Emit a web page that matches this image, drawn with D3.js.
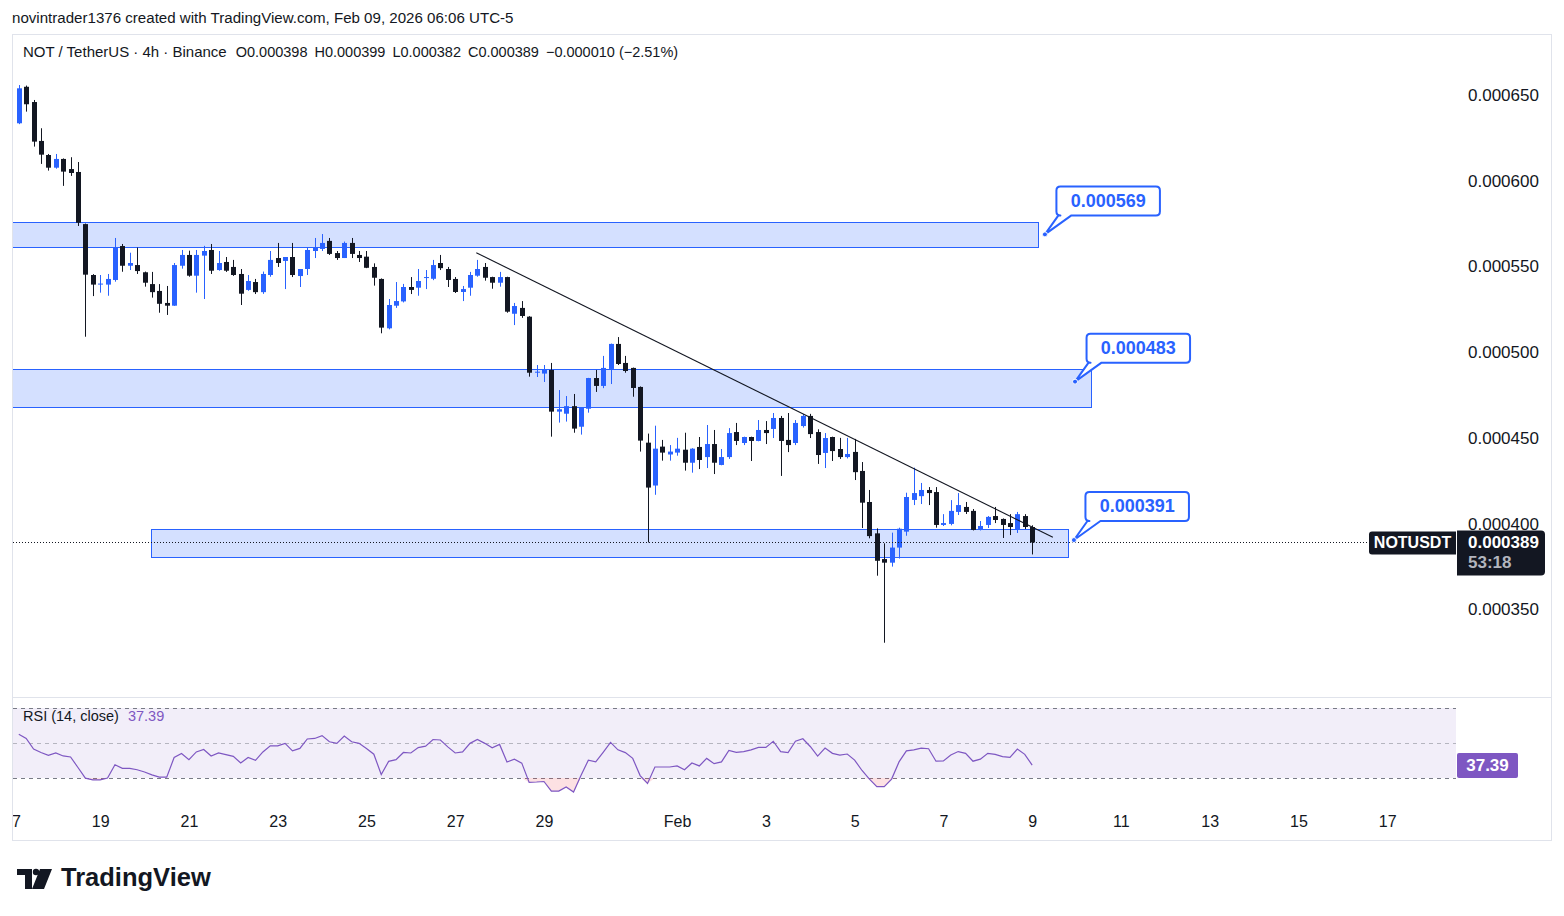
<!DOCTYPE html>
<html><head><meta charset="utf-8">
<script src="https://cdn.jsdelivr.net/npm/d3@7/dist/d3.min.js"></script>
<style>
body{margin:0;background:#fff;}
svg{display:block;font-family:"Liberation Sans",Arial,sans-serif;}
</style>
</head><body>
<svg id="c" width="1564" height="916"></svg>
<script>
// ---- data (prices in units of 1e-6 USDT) ----
const START = "2026-01-17T04:00";
const STEP_HOURS = 4;
const PRICE_UNIT = 1e-6;
const opens = [633.5,654.8,645.9,623.2,615,607.6,612.7,606.8,605.1,574.7,
545,539.5,539.4,542.1,561.9,550.4,550.8,546.6,539.7,535.7,
528.7,527.1,550.4,556.7,544.6,556.3,559.6,547.9,552.6,549.7,
545.6,536.3,540.9,535,545,554.9,553.2,555.5,544.4,548.5,
559,560.2,564.9,557.8,554.9,563.7,556.7,555.7,549.7,542.7,
513.9,527.1,529.6,538,537.6,543.3,542.8,552,548.5,542.7,
535.1,537.6,544.6,549.7,543.8,540.5,543.8,522.4,525.8,520.7,
488.2,487.5,489.6,465.3,464.1,468.5,456.5,467,484.9,480.3,
490.2,504.8,493.7,490.8,479.7,447.2,422.2,444.9,440.3,441.4,
443.1,435.5,444.7,438.8,446.4,434.2,438.8,453.4,447,450.5,
448.2,454.6,455.2,461.6,448.8,447,456.9,462.8,453.4,441.2,
450.5,443.5,438.8,441.8,430.7,412.6,394.3,379.3,377.2,386,
395.3,413.8,416,419.6,418.4,399.2,399.8,406.8,409.7,407.4,
396.3,399.2,404.4,402.7,400.3,396.8,404.4,398];
const highs = [655.8,655.5,647.1,630.6,615.6,615.6,613,613.7,610.9,575,
545.5,545,545.6,566.6,563.1,558,561,547,546.8,539.7,
538.6,552,559.6,559.2,559.6,562,563.1,559,555.5,553.8,
548.5,545,542.7,547,559,563.7,555.5,563.7,548.5,560.8,
566.6,568.9,566.6,559,564.5,566.6,559,559,551.8,543,
531,540.9,539.8,543.8,548.5,547.9,553.8,556.7,549.7,543.8,
538.6,546.8,553.8,552,544,546.8,544,528.7,529.8,521,
492.5,492.5,493.7,477.9,474.4,475.6,468,485,489.6,497.8,
505,508.8,497.8,491,480,452.5,457.1,448.8,445.8,450,
453,444,450.5,457.5,454.6,443.5,455.7,458.7,450.7,450.7,
460.4,459.8,464.5,462.8,464.5,460.4,463.9,464,455,452.8,
450.7,450,450,449.4,435.9,419.6,397.2,388.5,394.7,397.6,
418,432.6,423.7,421.3,421.3,405.5,413.7,417.8,412.6,408.5,
401.5,404.4,409.7,403,405.5,406.8,405.5,399];
const lows = [633,640.3,619.9,609.8,605.9,607,597,602.8,573.6,509,
532.7,534.7,532.9,541.1,546.9,547.9,545.6,538.2,531.8,523,
521.7,527,548.7,544,534.7,531,545.6,547.5,546.8,544.5,
527.5,535.8,533.9,534,544,549.7,536.8,543.8,538,545,
554.9,559,556.7,553.8,554.9,554.9,552.6,549,538.8,511,
513.3,525.8,529,533.9,532.9,536.8,542,547.9,538,534.5,
529.8,532.9,544,541.7,537,538.2,523,515.8,520,485.7,
485.5,482.6,450.7,458.9,459.5,453,451.9,464.7,476.8,479,
481.4,492.5,488,474,442,389,416.8,436.7,436.7,439.6,
430.9,429.7,431.8,432.4,428.9,434,437.7,445.8,445.8,436.5,
448,446.4,449.9,427.8,441.7,445.8,456,449.9,434.8,432.4,
436.5,437.7,438,425.4,397.4,391.4,369.6,330.5,374.9,379.6,
392.9,410.8,411.4,410.8,397.6,398.6,399,405,405.6,396,
396,397.4,400.3,391.6,393.3,394.5,396.8,382];
const closes = [653.9,644.6,622.8,615.2,607.6,612.7,605.3,604.5,575.5,545.2,
539.4,540,542.7,561.2,550.4,552,547.3,540.5,535,528.2,
527.1,550.8,556.7,544.6,556.7,559,547.5,552,547.5,545,
534.1,541.5,535,545.6,553.8,552,555.5,545,548.5,559.6,
561.3,563.7,557.3,554.9,563.7,557.3,554.9,549.2,543.4,514.3,
527.5,529.8,538,536.3,541.5,543.8,550.8,549,542.1,535.1,
536.8,545,548.5,543.4,540.5,543.8,523.6,526.9,521.1,488,
488.6,489.6,465.3,466.7,468.5,455.4,467.8,484.9,480.3,490.8,
504.8,493.1,489,479.1,448.4,421,443.7,441.4,442,443.7,
435.5,443.7,437.1,446.4,435.5,438.8,452.8,448.2,450.5,448.2,
454.6,452.8,461.6,448.2,445.8,458.7,462.8,452.2,440,449.9,
442.3,438.8,440.6,430,412.2,392.7,378.3,377.2,386,397,
415.5,417.8,419.6,417.8,399.2,400.3,407.4,410.8,406.8,396.3,
398.6,403.9,402.1,399.2,398,405.5,398,389];
const rsiValues = [55,52.6,46.5,44.6,43,44.3,42.6,42,36,29.9,
28.9,28.9,30,37.6,35.5,35.5,34.7,33.4,31.8,30.5,
30.5,41.7,44,40.5,44.9,46.3,42.6,44.3,43.4,42.4,
38.6,41.7,40.1,44.9,48.4,48.4,49.8,45.5,46.9,52.3,
52.6,54.2,50.7,49.8,54,50.7,49.8,46.9,43.6,32,
39.5,40.5,44.6,44.3,47.4,48.2,52,51.7,47.8,44.3,
44.9,49.8,52,49.8,47.3,49.2,39.1,40.7,38.5,27.5,
27.7,28,22.5,22.5,24.9,22,31.4,40.2,39.2,44.7,
50.4,46.1,44.5,41.2,31.4,26.9,36.3,36.3,36.3,36.9,
34.7,38.6,36.9,41.2,38.2,39.2,45.7,44.7,45.1,46.1,
47.5,47.5,51,45.1,44.5,51,52.4,48,42.5,47.1,
44.1,43.1,43.7,40.2,34.3,29.4,25.1,25.1,29.4,39.2,
45.5,46.1,47.1,46.7,39.6,39.8,43.1,45.1,44.1,39.6,
40.8,44.1,43.5,42.2,41.8,46.5,43.5,37.39];

const priceTicks = [350,400,450,500,550,600,650];
const timeTicks = ["2026-01-17","2026-01-19","2026-01-21","2026-01-23","2026-01-25","2026-01-27","2026-01-29",
  "2026-02-01","2026-02-03","2026-02-05","2026-02-07","2026-02-09","2026-02-11","2026-02-13","2026-02-15","2026-02-17"];
const rsiLevels = [70,50,30];

const zoneFrom = ["2026-01-16T00:00","2026-01-16T00:00","2026-01-20T03:30"];
const zoneTo = ["2026-02-09T03:12","2026-02-10T07:36","2026-02-09T19:24"];
const zoneTop = [575.7,490,396.7];
const zoneBottom = [561.2,467.8,380.3];

const noteTime = ["2026-02-09T06:54","2026-02-09T23:12","2026-02-09T22:36"];
const notePrice = [568.7,482.8,390.4];
const noteText = ["0.000569","0.000483","0.000391"];

const trendTime = ["2026-01-27T11:24","2026-02-09T11:12"];
const trendPrice = [558,392];

const countdown = "53:18";
const headerLine = "novintrader1376 created with TradingView.com, Feb 09, 2026 06:06 UTC-5";
const legendTitle = "NOT / TetherUS · 4h · Binance";
const legendItems = ["O0.000398","H0.000399","L0.000382","C0.000389","−0.000010 (−2.51%)"];

// ---- setup ----
const BLUE = "#2962FF", BLACK = "#131722", PURPLE = "#7E57C2";
const FONT = "Liberation Sans, Arial, sans-serif";
const svg = d3.select("#c");
const parse = d3.utcParse("%Y-%m-%dT%H:%M");
const parseDay = d3.utcParse("%Y-%m-%d");
const t0 = parse(START);
const candles = opens.map((o,i)=>({
  t: new Date(+t0 + i*STEP_HOURS*3600e3),
  o: o*PRICE_UNIT, h: highs[i]*PRICE_UNIT, l: lows[i]*PRICE_UNIT, c: closes[i]*PRICE_UNIT, r: rsiValues[i]
}));

const L = 13, R = 1456;
const x = d3.scaleUtc().domain([parseDay("2026-01-17"), parseDay("2026-02-17")]).range([11.4, 1387.2]);
const y = d3.scaleLinear().domain([350*PRICE_UNIT, 650*PRICE_UNIT]).range([609.3, 95]);
const yR = d3.scaleLinear().domain([30,70]).range([778,708]);
const fmtP = d3.format(".6f");

const defs = svg.append("defs");
defs.append("clipPath").attr("id","main").append("rect").attr("x",L).attr("y",35).attr("width",R-L).attr("height",662);
defs.append("clipPath").attr("id","rsi").append("rect").attr("x",L).attr("y",698).attr("width",R-L).attr("height",102);
defs.append("clipPath").attr("id","tax").append("rect").attr("x",L).attr("y",800).attr("width",R-L).attr("height",40);

// header
svg.append("text").attr("x",12).attr("y",19).attr("dominant-baseline","middle")
  .attr("font-size",15.1).attr("fill",BLACK).text(headerLine);

// frame
svg.append("rect").attr("x",12.5).attr("y",34.5).attr("width",1539).attr("height",806)
  .attr("fill","none").attr("stroke","#e0e3eb");
svg.append("line").attr("x1",12.5).attr("x2",1551.5).attr("y1",697.5).attr("y2",697.5).attr("stroke","#e0e3eb");

// legend
const leg = svg.append("text").attr("x",23).attr("y",53).attr("dominant-baseline","middle").attr("font-size",15).attr("fill",BLACK);
leg.append("tspan").text(legendTitle);
legendItems.forEach((s,i)=>leg.append("tspan").attr("dx",i===0?9:7).attr("font-size",14.5).text(s));

// main pane
const main = svg.append("g").attr("clip-path","url(#main)");

// zones
main.selectAll("rect.zone").data(zoneFrom.map((f,i)=>({f:parse(f),t:parse(zoneTo[i]),top:zoneTop[i]*PRICE_UNIT,bot:zoneBottom[i]*PRICE_UNIT})))
  .join("rect").attr("class","zone")
  .attr("x",d=>Math.round(x(d.f))+0.5).attr("width",d=>Math.round(x(d.t))-Math.round(x(d.f)))
  .attr("y",d=>Math.round(y(d.top))+0.5).attr("height",d=>Math.round(y(d.bot))-Math.round(y(d.top)))
  .attr("fill","rgba(41,98,255,0.2)").attr("stroke",BLUE).attr("stroke-width",1);

// current price dotted line
const lastC = candles[candles.length-1].c;
svg.append("line").attr("x1",L).attr("x2",1369).attr("y1",Math.round(y(lastC))+0.5).attr("y2",Math.round(y(lastC))+0.5)
  .attr("stroke",BLACK).attr("stroke-width",1).attr("stroke-dasharray","1,2");

// candles
const cg = main.append("g");
cg.selectAll("line.wick").data(candles).join("line").attr("class","wick")
  .attr("x1",d=>Math.round(x(d.t))+0.5).attr("x2",d=>Math.round(x(d.t))+0.5)
  .attr("y1",d=>y(d.h)).attr("y2",d=>y(d.l))
  .attr("stroke",d=>d.c>=d.o?BLUE:BLACK).attr("stroke-width",1);
cg.selectAll("rect.body").data(candles).join("rect").attr("class","body")
  .attr("x",d=>Math.round(x(d.t))-2).attr("width",5)
  .attr("y",d=>y(Math.max(d.o,d.c))).attr("height",d=>Math.max(1,Math.abs(y(d.o)-y(d.c))))
  .attr("fill",d=>d.c>=d.o?BLUE:BLACK);

// trend line
main.append("line")
  .attr("x1",x(parse(trendTime[0]))).attr("y1",y(trendPrice[0]*PRICE_UNIT))
  .attr("x2",x(parse(trendTime[1]))).attr("y2",y(trendPrice[1]*PRICE_UNIT))
  .attr("stroke","#131722").attr("stroke-width",1.1);

// callouts
noteTime.forEach((tt,i)=>{
  const dx = x(parse(tt)), dy = y(notePrice[i]*PRICE_UNIT);
  const x0 = dx+11.5, x1 = dx+115, y0 = dy-48, y1 = dy-19, r = 4;
  const t1 = x0+2, t2 = x0+15;
  const p = `M${x0+r},${y0} H${x1-r} Q${x1},${y0} ${x1},${y0+r} V${y1-r} Q${x1},${y1} ${x1-r},${y1} H${t2} L${dx},${dy} L${t1},${y1} H${x0+r} Q${x0},${y1} ${x0},${y1-r} V${y0+r} Q${x0},${y0} ${x0+r},${y0} Z`;
  svg.append("path").attr("d",p).attr("fill","#fff").attr("stroke",BLUE).attr("stroke-width",2).attr("stroke-linejoin","round");
  svg.append("circle").attr("cx",dx).attr("cy",dy).attr("r",2.5).attr("fill",BLUE).attr("stroke","#fff").attr("stroke-width",1);
  svg.append("text").attr("x",(x0+x1)/2).attr("y",(y0+y1)/2+1).attr("text-anchor","middle").attr("dominant-baseline","middle")
    .attr("font-size",18).attr("font-weight","bold").attr("fill",BLUE).text(noteText[i]);
});

// price axis
const pax = svg.append("g").attr("transform","translate(1465,0)")
  .call(d3.axisRight(y).tickValues(priceTicks.map(v=>v*PRICE_UNIT)).tickFormat(fmtP).tickSize(0).tickPadding(3));
pax.select(".domain").remove();
pax.selectAll("text").attr("font-size",17).attr("fill",BLACK).attr("font-family",FONT);

// last price labels
const ly = y(lastC);
svg.append("path").attr("d",`M1372,${ly-11} H1456 V${ly+12} H1372 Q1369,${ly+12} 1369,${ly+9} V${ly-8} Q1369,${ly-11} 1372,${ly-11} Z`).attr("fill","#131722");
svg.append("text").attr("x",1412.5).attr("y",ly+1).attr("text-anchor","middle").attr("dominant-baseline","middle")
  .attr("font-size",16).attr("font-weight","bold").attr("fill","#fff").text("NOTUSDT");
svg.append("path").attr("d",`M1457,${ly-12} H1541 Q1545,${ly-12} 1545,${ly-8} V${ly+29} Q1545,${ly+33} 1541,${ly+33} H1457 Z`).attr("fill","#131722");
svg.append("text").attr("x",1468).attr("y",ly+1).attr("dominant-baseline","middle")
  .attr("font-size",17).attr("font-weight","bold").attr("fill","#fff").text(fmtP(lastC));
svg.append("text").attr("x",1468).attr("y",ly+21).attr("dominant-baseline","middle")
  .attr("font-size",17).attr("font-weight","bold").attr("fill","#b2b5be").text(countdown);

// RSI pane
const rp = svg.append("g").attr("clip-path","url(#rsi)");
rp.append("rect").attr("x",L).attr("width",R-L).attr("y",yR(70)).attr("height",yR(30)-yR(70)).attr("fill","rgba(126,87,194,0.1)");
rp.selectAll("line.lvl").data(rsiLevels).join("line").attr("class","lvl")
  .attr("x1",L).attr("x2",R).attr("y1",d=>Math.round(yR(d))+0.5).attr("y2",d=>Math.round(yR(d))+0.5)
  .attr("stroke","#787B86").attr("stroke-opacity",d=>d===50?0.5:1).attr("stroke-dasharray","4,4");
rp.append("path").datum(candles)
  .attr("d",d3.area().x(d=>x(d.t)).y0(yR(30)).y1(d=>yR(Math.min(30,d.r))))
  .attr("fill","rgba(242,54,69,0.15)");
rp.append("path").datum(candles)
  .attr("d",d3.line().x(d=>x(d.t)).y(d=>yR(d.r)))
  .attr("fill","none").attr("stroke",PURPLE).attr("stroke-width",1.2);
const rl = svg.append("text").attr("x",23).attr("y",717).attr("dominant-baseline","middle").attr("font-size",14.5).attr("fill",BLACK);
rl.append("tspan").text("RSI (14, close)");
rl.append("tspan").attr("dx",9).attr("fill",PURPLE).text(d3.format(".2f")(rsiValues[rsiValues.length-1]));
const lr = yR(rsiValues[rsiValues.length-1]);
svg.append("rect").attr("x",1457).attr("y",lr-12).attr("width",61).attr("height",25).attr("rx",2).attr("fill",PURPLE);
svg.append("text").attr("x",1487.5).attr("y",lr+1).attr("text-anchor","middle").attr("dominant-baseline","middle")
  .attr("font-size",17).attr("font-weight","bold").attr("fill","#fff").text(d3.format(".2f")(rsiValues[rsiValues.length-1]));

// time axis
const tax = svg.append("g").attr("clip-path","url(#tax)").append("g").attr("transform","translate(0,821)")
  .call(d3.axisBottom(x).tickValues(timeTicks.map(parseDay))
    .tickFormat(d=>d.getUTCDate()===1?d3.utcFormat("%b")(d):String(d.getUTCDate())).tickSize(0));
tax.select(".domain").remove();
tax.selectAll("text").attr("y",0).attr("dy","0.35em").attr("font-size",16).attr("fill",BLACK)
  .attr("font-family",FONT);

// TradingView logo
svg.append("path").attr("d","M17,869 H32 V889 H25 V875 H17 Z M40,869 H52 L44,889 H32 Z").attr("fill","#131722");
svg.append("circle").attr("cx",36).attr("cy",872).attr("r",3.2).attr("fill","#131722");
svg.append("text").attr("x",61).attr("y",879).attr("dominant-baseline","middle").attr("font-size",25.5)
  .attr("font-weight","bold").attr("fill","#131722").text("TradingView");
</script>
</body></html>
